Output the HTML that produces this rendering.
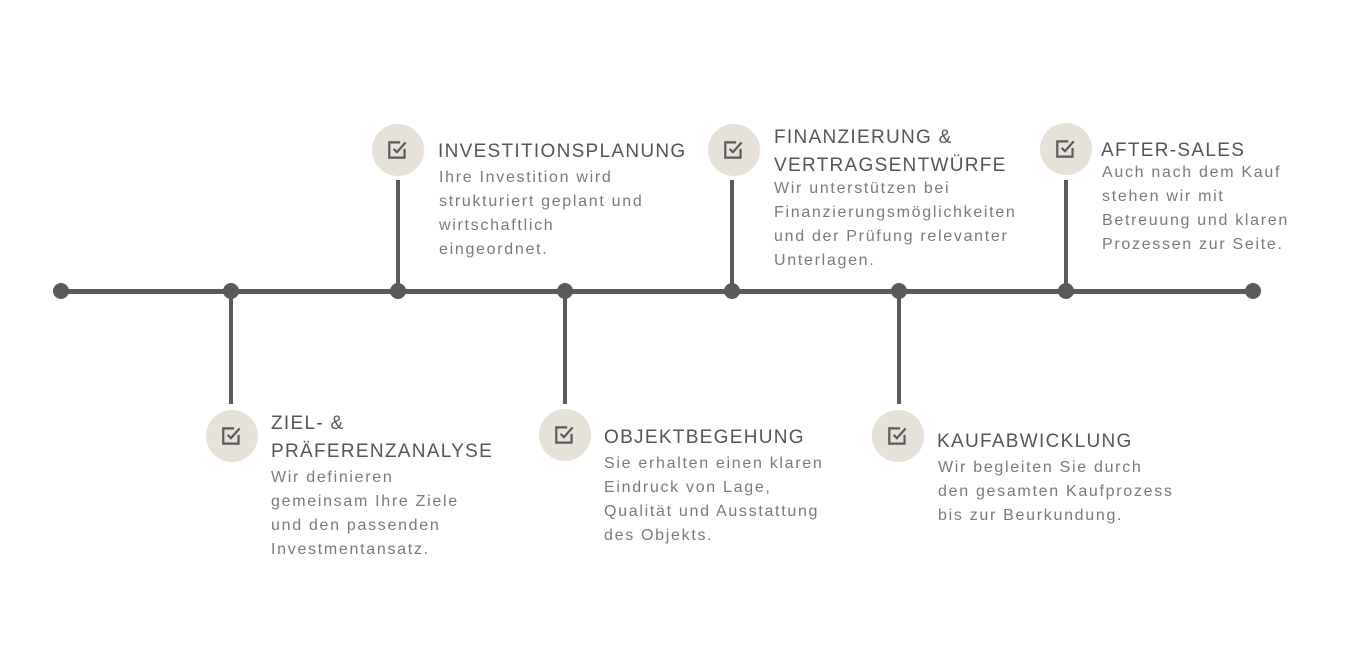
<!DOCTYPE html>
<html><head><meta charset="utf-8"><style>
body{margin:0;width:1366px;height:672px;background:#fff;position:relative;overflow:hidden;font-family:"Liberation Sans",sans-serif}
.h{position:absolute;left:61px;top:289px;width:1192px;height:5px;background:#5a595c}
.d{position:absolute;width:16px;height:16px;border-radius:50%;background:#5a595c;top:283px}
.v{position:absolute;width:4px;background:#5a595c}
.c{position:absolute;width:52px;height:52px;border-radius:50%;background:#e6e1d9}
.c svg{position:absolute;left:14px;top:14px}
.t{position:absolute;font-size:19px;line-height:28px;color:#555458;letter-spacing:1.3px}
.b{position:absolute;font-size:16px;line-height:24px;color:#7a797c;letter-spacing:1.7px}
</style></head><body>
<div class="h"></div>
<div class="d" style="left:53px"></div><div class="d" style="left:223px"></div><div class="d" style="left:390px"></div><div class="d" style="left:557px"></div><div class="d" style="left:724px"></div><div class="d" style="left:891px"></div><div class="d" style="left:1058px"></div><div class="d" style="left:1245px"></div>
<div class="v" style="left:396px;top:180px;height:111px"></div>
<div class="v" style="left:730px;top:180px;height:111px"></div>
<div class="v" style="left:1064px;top:180px;height:111px"></div>
<div class="v" style="left:229px;top:291px;height:113px"></div>
<div class="v" style="left:563px;top:291px;height:113px"></div>
<div class="v" style="left:897px;top:291px;height:113px"></div>
<div class="c" style="left:372px;top:124px"><svg width="24" height="24" viewBox="0 0 22 22"><path d="M17 10v8H3V4h10" fill="none" stroke="#5a595c" stroke-width="2"/><path d="M7 10l3 3 8-9" fill="none" stroke="#5a595c" stroke-width="2"/></svg></div>
<div class="c" style="left:708px;top:124px"><svg width="24" height="24" viewBox="0 0 22 22"><path d="M17 10v8H3V4h10" fill="none" stroke="#5a595c" stroke-width="2"/><path d="M7 10l3 3 8-9" fill="none" stroke="#5a595c" stroke-width="2"/></svg></div>
<div class="c" style="left:1040px;top:123px"><svg width="24" height="24" viewBox="0 0 22 22"><path d="M17 10v8H3V4h10" fill="none" stroke="#5a595c" stroke-width="2"/><path d="M7 10l3 3 8-9" fill="none" stroke="#5a595c" stroke-width="2"/></svg></div>
<div class="c" style="left:206px;top:410px"><svg width="24" height="24" viewBox="0 0 22 22"><path d="M17 10v8H3V4h10" fill="none" stroke="#5a595c" stroke-width="2"/><path d="M7 10l3 3 8-9" fill="none" stroke="#5a595c" stroke-width="2"/></svg></div>
<div class="c" style="left:539px;top:409px"><svg width="24" height="24" viewBox="0 0 22 22"><path d="M17 10v8H3V4h10" fill="none" stroke="#5a595c" stroke-width="2"/><path d="M7 10l3 3 8-9" fill="none" stroke="#5a595c" stroke-width="2"/></svg></div>
<div class="c" style="left:872px;top:410px"><svg width="24" height="24" viewBox="0 0 22 22"><path d="M17 10v8H3V4h10" fill="none" stroke="#5a595c" stroke-width="2"/><path d="M7 10l3 3 8-9" fill="none" stroke="#5a595c" stroke-width="2"/></svg></div>

<div class="t" style="left:438px;top:138px">INVESTITIONSPLANUNG</div>
<div class="b" style="left:439px;top:166px">Ihre Investition wird<br>strukturiert geplant und<br>wirtschaftlich<br>eingeordnet.</div>
<div class="t" style="left:774px;top:124px">FINANZIERUNG &amp;<br>VERTRAGSENTWÜRFE</div>
<div class="b" style="left:774px;top:177px">Wir unterstützen bei<br>Finanzierungsmöglichkeiten<br>und der Prüfung relevanter<br>Unterlagen.</div>
<div class="t" style="left:1101px;top:137px">AFTER-SALES</div>
<div class="b" style="left:1102px;top:161px">Auch nach dem Kauf<br>stehen wir mit<br>Betreuung und klaren<br>Prozessen zur Seite.</div>
<div class="t" style="left:271px;top:410px">ZIEL- &amp;<br>PRÄFERENZANALYSE</div>
<div class="b" style="left:271px;top:466px">Wir definieren<br>gemeinsam Ihre Ziele<br>und den passenden<br>Investmentansatz.</div>
<div class="t" style="left:604px;top:424px">OBJEKTBEGEHUNG</div>
<div class="b" style="left:604px;top:452px">Sie erhalten einen klaren<br>Eindruck von Lage,<br>Qualität und Ausstattung<br>des Objekts.</div>
<div class="t" style="left:937px;top:428px">KAUFABWICKLUNG</div>
<div class="b" style="left:938px;top:456px">Wir begleiten Sie durch<br>den gesamten Kaufprozess<br>bis zur Beurkundung.</div>
</body></html>
